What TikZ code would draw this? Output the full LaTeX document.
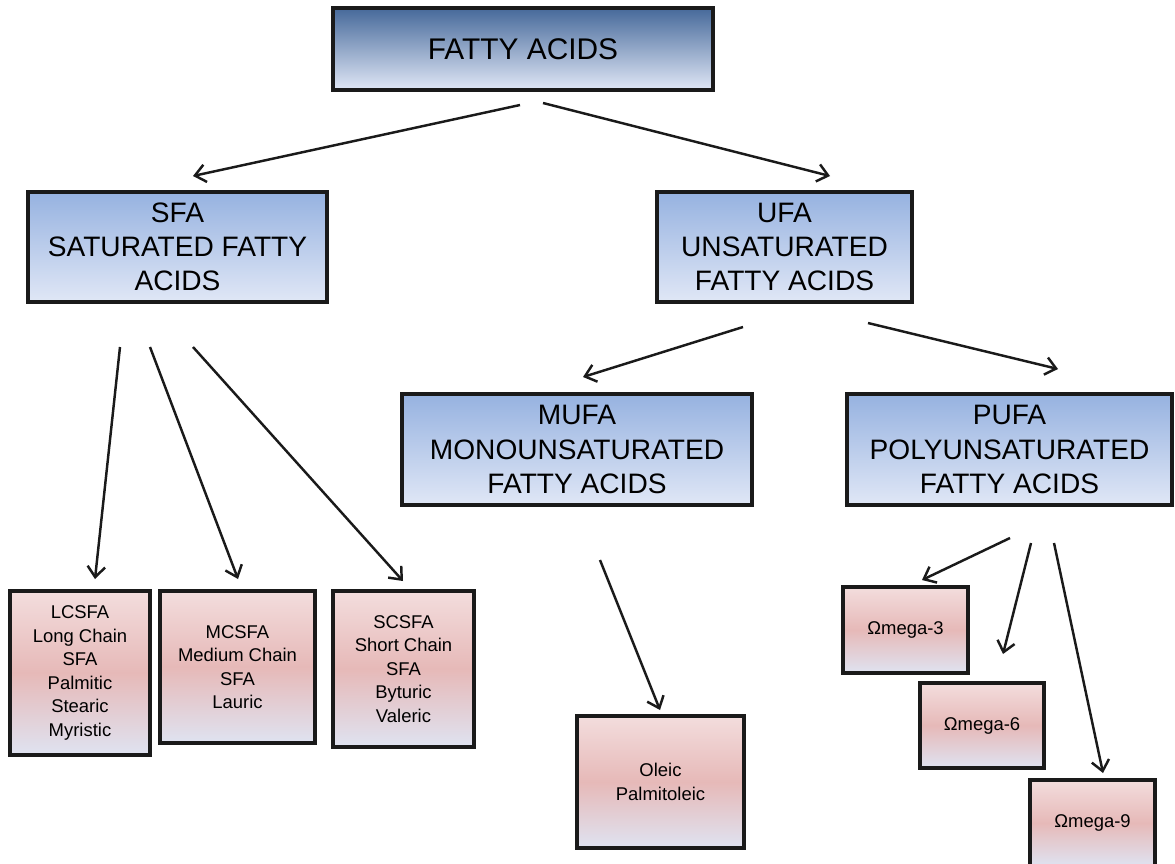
\documentclass[tikz,border=0pt]{standalone}
\usepackage{fontspec}
\setmainfont{Liberation Sans}
\usetikzlibrary{arrows.meta}

\definecolor{bluetop}{HTML}{96B2E0}
\definecolor{bluedark}{HTML}{46699A}
\definecolor{bluebot}{HTML}{E0E7F6}
\definecolor{pinktop}{HTML}{F3DDDD}
\definecolor{pinkmid}{HTML}{E6B9B8}
\definecolor{pinkbot}{HTML}{DFE3F1}
\definecolor{edgeblack}{HTML}{1A1A1A}

\begin{document}
\begin{tikzpicture}[x=0.02cm,y=-0.02cm,->,>={Straight Barb[length=6pt,width=10pt]},line width=1.4pt,
	blue node/.style={rectangle,draw=edgeblack,line width=1.8pt,inner sep=0pt,align=center,
		top color=bluetop,bottom color=bluebot,font=\fontsize{16}{19.4}\selectfont},
	pink node/.style={rectangle,draw=edgeblack,line width=1.8pt,inner sep=0pt,align=center,
		top color=pinktop,bottom color=pinkbot,middle color=pinkmid,font=\fontsize{10.5}{13.4}\selectfont}]
	
	\useasboundingbox (0,0) rectangle (1175,863);
	
	\node[blue node,top color=bluedark,minimum width=7.6cm,minimum height=1.64cm,
		font=\fontsize{17}{20}\selectfont] (fa) at (523,49) {FATTY ACIDS};
	\node[blue node,minimum width=5.98cm,minimum height=2.2cm] (sfa) at (177.5,247) {SFA\\SATURATED FATTY\\ACIDS};
	\node[blue node,minimum width=5.1cm,minimum height=2.2cm] (ufa) at (784.5,247) {UFA\\UNSATURATED\\FATTY ACIDS};
	\node[blue node,minimum width=7cm,minimum height=2.22cm] (mufa) at (577,449.5) {MUFA\\MONOUNSATURATED\\FATTY ACIDS};
	\node[blue node,minimum width=6.5cm,minimum height=2.22cm] (pufa) at (1009.5,449.5) {PUFA\\POLYUNSATURATED\\FATTY ACIDS};
	
	\node[pink node,minimum width=2.8cm,minimum height=3.28cm] (lcsfa) at (80,673) {LCSFA\\Long Chain\\SFA\\Palmitic\\Stearic\\Myristic};
	\node[pink node,minimum width=3.1cm,minimum height=3.04cm] (mcsfa) at (237.5,667) {MCSFA\\Medium Chain\\SFA\\Lauric};
	\node[pink node,minimum width=2.82cm,minimum height=3.12cm] (scsfa) at (403.5,669) {SCSFA\\Short Chain\\SFA\\Byturic\\Valeric};
	\node[pink node,minimum width=3.34cm,minimum height=2.64cm] (oleic) at (660.5,782) {Oleic\\Palmitoleic};
	\node[pink node,minimum width=2.5cm,minimum height=1.72cm] (omega3) at (905.5,630) {Ωmega-3};
	\node[pink node,minimum width=2.48cm,minimum height=1.7cm] (omega6) at (982,725.5) {Ωmega-6};
	\node[pink node,minimum width=2.5cm,minimum height=1.72cm] (omega9) at (1092.5,823) {Ωmega-9};
	
	\coordinate (fa out1) at (520,105);
	\coordinate (fa out2) at (543,103);
	\coordinate (sfa in) at (193,176);
	\coordinate (ufa in) at (830,176);
	\coordinate (sfa out1) at (120,347);
	\coordinate (sfa out2) at (150,347);
	\coordinate (sfa out3) at (193,347);
	\coordinate (lcsfa in) at (95,579);
	\coordinate (mcsfa in) at (238,579);
	\coordinate (scsfa in) at (403,581);
	\coordinate (ufa out1) at (743,327);
	\coordinate (ufa out2) at (868,323);
	\coordinate (mufa in) at (583,377);
	\coordinate (pufa in) at (1058,369);
	\coordinate (mufa out) at (600,560);
	\coordinate (oleic in) at (660,710);
	\coordinate (pufa out1) at (1010,538);
	\coordinate (pufa out2) at (1031,543);
	\coordinate (pufa out3) at (1054,543);
	\coordinate (omega3 in) at (922,580);
	\coordinate (omega6 in) at (1003,654);
	\coordinate (omega9 in) at (1103,773);
	
	\path[every edge/.append style={draw=edgeblack}]
	(fa out1) edge (sfa in)
	(fa out2) edge (ufa in)
	(sfa out1) edge (lcsfa in)
	(sfa out2) edge (mcsfa in)
	(sfa out3) edge (scsfa in)
	(ufa out1) edge (mufa in)
	(ufa out2) edge (pufa in)
	(mufa out) edge (oleic in)
	(pufa out1) edge (omega3 in)
	(pufa out2) edge (omega6 in)
	(pufa out3) edge (omega9 in);
\end{tikzpicture}
\end{document}
